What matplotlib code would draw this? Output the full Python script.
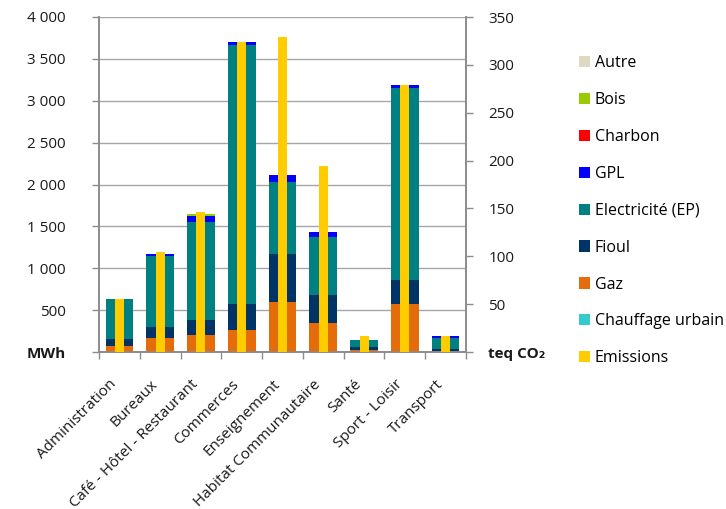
import matplotlib
matplotlib.use("Agg")
import matplotlib.pyplot as plt
from matplotlib.patches import Patch
from matplotlib.transforms import ScaledTranslation
import numpy as np

plt.rcParams['font.family'] = ['Open Sans', 'DejaVu Sans']

categories = ["Administration", "Bureaux", "Café - Hôtel - Restaurant", "Commerces",
              "Enseignement", "Habitat Communautaire", "Santé", "Sport - Loisir", "Transport"]

# Consumption by energy source (MWh)
chauffage_urbain = [0, 0, 0, 0, 0, 0, 0, 0, 0]
gaz = [72, 167, 203, 263, 597, 346, 24, 573, 12]
fioul = [83, 132, 179, 310, 573, 335, 36, 287, 24]
electricite = [478, 851, 1174, 3093, 860, 692, 83, 2292, 131]
gpl = [0, 24, 68, 35, 83, 60, 0, 36, 24]
charbon = [0, 0, 0, 0, 0, 0, 0, 0, 0]
bois = [0, 0, 24, 0, 0, 0, 0, 0, 0]
autre = [0, 0, 0, 0, 0, 0, 0, 0, 0]

# Greenhouse gas emissions (teq CO2)
emissions = [55, 105, 146, 324, 329, 194, 17, 279, 17]

left_ticks = [0, 500, 1000, 1500, 2000, 2500, 3000, 3500, 4000]
right_ticks = [0, 50, 100, 150, 200, 250, 300, 350]

stack = [
    ("Chauffage urbain", chauffage_urbain, "#33CCCC"),
    ("Gaz", gaz, "#E46C0A"),
    ("Fioul", fioul, "#003366"),
    ("Electricité (EP)", electricite, "#008080"),
    ("GPL", gpl, "#0000FF"),
    ("Charbon", charbon, "#FF0000"),
    ("Bois", bois, "#99CC00"),
    ("Autre", autre, "#DDD9C3"),
]
emis_color = "#FFCC00"

fig = plt.figure(figsize=(7.26, 5.09), dpi=100)
ax = fig.add_axes([99 / 726, 1 - 352 / 509, 367 / 726, 335 / 509])
ax2 = ax.twinx()

x = np.arange(len(categories))
bottom = np.zeros(len(categories))
for name, vals, col in stack:
    vals = np.array(vals, dtype=float)
    ax.bar(x, vals, width=0.68, bottom=bottom, color=col, linewidth=0, zorder=3)
    bottom += vals

ax2.bar(x, emissions, width=0.22, color=emis_color, linewidth=0, zorder=3)

grey = "#8C8C8C"
text_col = "#1A1A1A"
ax.set_xlim(-0.5, len(categories) - 0.5)
ax.set_ylim(0, 4000)
ax2.set_ylim(0, 350)

ax.set_yticks(left_ticks)
ax.set_yticklabels(["MWh"] + [f"{v:,}".replace(",", " ") for v in left_ticks[1:]])
ax2.set_yticks(right_ticks)
ax2.set_yticklabels(["teq CO₂"] + [str(v) for v in right_ticks[1:]])
ax.get_yticklabels()[0].set_fontweight("bold")
ax2.get_yticklabels()[0].set_fontweight("bold")

ax.yaxis.grid(True, color="#A6A6A6", linewidth=1.0, zorder=0)
ax.set_axisbelow(True)

ax.set_xticks(x)
ax.set_xticks(np.arange(-0.5, len(categories)), minor=True)
ax.tick_params(axis="x", which="major", length=0, pad=18, labelsize=11, labelcolor=text_col)
ax.tick_params(axis="x", which="minor", length=5, color=grey, width=1)
ax.tick_params(axis="y", length=5, color=grey, width=1, pad=19, labelsize=11,
               labelcolor=text_col)
ax2.tick_params(axis="y", length=5, color=grey, width=1, pad=11, labelsize=11,
                labelcolor=text_col)

# Rotated category labels, their top-right corner slightly left of each category centre
ax.set_xticklabels(categories, rotation=45, ha="right", va="top",
                   rotation_mode="anchor")
shift = ScaledTranslation(-10 / 100, 0, fig.dpi_scale_trans)
for lbl in ax.get_xticklabels():
    lbl.set_transform(lbl.get_transform() + shift)

for a in (ax, ax2):
    a.spines["top"].set_visible(False)
    for s in ("left", "right", "bottom"):
        a.spines[s].set_color(grey)
        a.spines[s].set_linewidth(1.2)

order = ["Autre", "Bois", "Charbon", "GPL", "Electricité (EP)", "Fioul", "Gaz", "Chauffage urbain"]
colors = {name: col for name, _, col in stack}
handles = [Patch(facecolor=colors[n], edgecolor="none", label=n) for n in order]
handles.append(Patch(facecolor=emis_color, edgecolor="none", label="Emissions"))
fig.legend(handles=handles, loc="upper left", bbox_to_anchor=(579 / 726, 1 - 55 / 509),
           frameon=False, fontsize=11.5, handlelength=0.7, handleheight=0.7,
           handletextpad=0.3, labelspacing=1.31, borderaxespad=0, borderpad=0)

fig.savefig("out.png", dpi=100)
